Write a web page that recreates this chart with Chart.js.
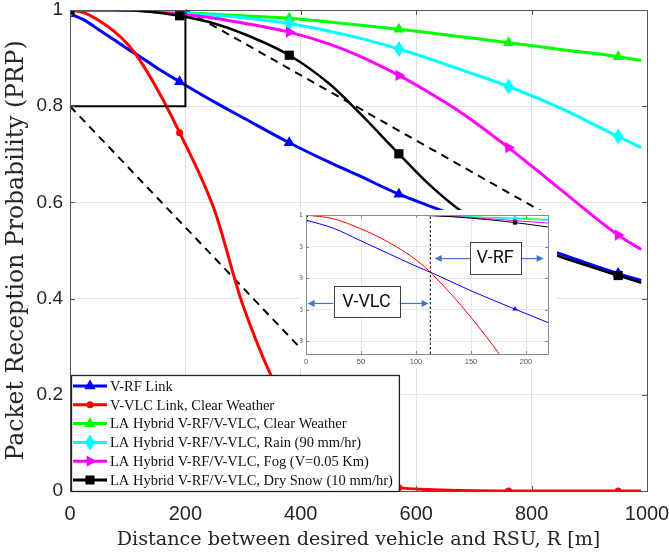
<!DOCTYPE html>
<html>
<head>
<meta charset="utf-8">
<script src="https://cdn.jsdelivr.net/npm/chart.js@4.4.1/dist/chart.umd.min.js"></script>
<style>
  body { margin: 0; background: #fff; }
  #wrap { position: relative; width: 669px; height: 557px; }
  #main { position: absolute; left: 0; top: 0; }
  #inset { position: absolute; left: 300px; top: 210px; background: #fff; }
</style>
</head>
<body>
<div id="wrap">
  <canvas id="main" width="669" height="557"></canvas>
  <canvas id="inset" width="257" height="158"></canvas>
</div>
<script>
// --- DATA ---
const distance = [0, 25, 50, 75, 100, 115, 150, 190, 250, 300, 380, 450, 500, 570, 620, 680, 760, 850, 950, 990];
const rfLink   = [0.992, 0.979, 0.959, 0.939, 0.919, 0.908, 0.880, 0.851, 0.809, 0.776, 0.724, 0.683, 0.656, 0.617, 0.594, 0.567, 0.531, 0.493, 0.452, 0.438];
const vlcClear = [1, 0.994, 0.978, 0.957, 0.929, 0.906, 0.838, 0.745, 0.585, 0.385, 0.165, 0.060, 0.028, 0.007, 0.003, 0.001, 0, 0, 0, 0];
const hybClear = [1, 1, 1, 1, 0.9995, 0.999, 0.997, 0.995, 0.991, 0.988, 0.983, 0.975, 0.969, 0.960, 0.953, 0.944, 0.932, 0.918, 0.903, 0.895];
const hybRain  = [1, 1, 1, 1, 0.9995, 0.999, 0.997, 0.994, 0.989, 0.984, 0.972, 0.956, 0.942, 0.919, 0.900, 0.875, 0.841, 0.796, 0.737, 0.714];
const hybFog   = [1, 1, 1, 1, 0.9995, 0.999, 0.996, 0.991, 0.983, 0.973, 0.954, 0.929, 0.905, 0.864, 0.830, 0.785, 0.714, 0.627, 0.532, 0.502];
const hybSnow  = [1, 1, 1, 1, 0.9995, 0.999, 0.995, 0.988, 0.972, 0.951, 0.906, 0.846, 0.788, 0.701, 0.640, 0.580, 0.525, 0.487, 0.448, 0.433];
const markerAt = [0, 190, 380, 570, 760, 950];

const xTicks = [0, 200, 400, 600, 800, 1000];
const yTicks = [0, 0.2, 0.4, 0.6, 0.8, 1];
const insetXTicks = [0, 50, 100, 150, 200];
const insetYTicks = [0.8, 0.85, 0.9, 0.95, 1];

const zoomBoxX = [0, 200, 200, 0, 0];
const zoomBoxY = [0.8, 0.8, 1, 1, 0.8];
const switchDistance = 113;

const labels = [
    'V-RF Link',
    'V-VLC Link, Clear Weather',
    'LA Hybrid V-RF/V-VLC, Clear Weather',
    'LA Hybrid V-RF/V-VLC, Rain (90 mm/hr)',
    'LA Hybrid V-RF/V-VLC, Fog (V=0.05 Km)',
    'LA Hybrid V-RF/V-VLC, Dry Snow (10 mm/hr)'
];
const values = [rfLink, vlcClear, hybClear, hybRain, hybFog, hybSnow];
const colors = ['#0000ff', '#ff0000', '#00ff00', '#00ffff', '#ff00ff', '#000000'];
const shapes = ['triangle', 'circle', 'triangle', 'diamond', 'right', 'rect'];

Chart.defaults.font.family = "'Liberation Sans', Arial, sans-serif";
Chart.defaults.color = '#262626';
const titleFamily = "'DejaVu Serif', serif";

// --- MARKERS ---
function diamondImage(w, h, color) {
    const c = document.createElement('canvas');
    c.width = w; c.height = h;
    const g = c.getContext('2d');
    g.fillStyle = color;
    g.beginPath();
    g.moveTo(w / 2, 0); g.lineTo(w, h / 2); g.lineTo(w / 2, h); g.lineTo(0, h / 2);
    g.closePath(); g.fill();
    return c;
}

function pointStyleFor(shape, big) {
    if (shape === 'diamond') return big ? diamondImage(10, 16, '#00ffff') : diamondImage(5, 8, '#00ffff');
    if (shape === 'right') return 'triangle';
    return shape;
}

function markerSize(shape, big) {
    const s = { triangle: 6.5, circle: 3.5, diamond: 6, right: 6.5, rect: 6.5 }[shape];
    return big ? s : s * 0.45;
}

function drawMarker(ctx, shape, x, y, color) {
    ctx.fillStyle = color;
    ctx.beginPath();
    if (shape === 'triangle') {
        ctx.moveTo(x, y - 6.5); ctx.lineTo(x + 5.6, y + 3.3); ctx.lineTo(x - 5.6, y + 3.3);
    } else if (shape === 'right') {
        ctx.moveTo(x + 6.5, y); ctx.lineTo(x - 3.3, y + 5.6); ctx.lineTo(x - 3.3, y - 5.6);
    } else if (shape === 'circle') {
        ctx.arc(x, y, 3.5, 0, Math.PI * 2);
    } else if (shape === 'diamond') {
        ctx.moveTo(x, y - 8); ctx.lineTo(x + 5, y); ctx.lineTo(x, y + 8); ctx.lineTo(x - 5, y);
    } else {
        ctx.rect(x - 4.5, y - 4.5, 9, 9);
    }
    ctx.closePath();
    ctx.fill();
}

function makeDatasets(big) {
    return values.map((vals, i) => ({
        label: labels[i],
        data: distance.map((d, k) => ({ x: d, y: vals[k] })),
        borderColor: colors[i],
        backgroundColor: colors[i],
        borderWidth: big ? (i === 5 ? 2.5 : 3) : 1,
        cubicInterpolationMode: 'monotone',
        pointStyle: pointStyleFor(shapes[i], big),
        pointRotation: shapes[i] === 'right' ? 90 : 0,
        pointRadius: ctx => markerAt.includes(ctx.raw.x) ? markerSize(shapes[i], big) : 0,
        pointBorderWidth: 0,
        order: 5 - i
    }));
}

// --- INSET ---
function insetX(s) { s.paddingLeft = 0; s.paddingRight = 0; s.height = 14; }
function insetY(s) { s.paddingTop = 0; s.paddingBottom = 0; s.width = 6; }

function arrow(ctx, x1, y, x2) {
    const dir = x2 > x1 ? 1 : -1;
    ctx.beginPath();
    ctx.moveTo(x1, y); ctx.lineTo(x2 - dir * 6, y);
    ctx.stroke();
    ctx.beginPath();
    ctx.moveTo(x2, y); ctx.lineTo(x2 - dir * 7, y - 3.5); ctx.lineTo(x2 - dir * 7, y + 3.5);
    ctx.closePath(); ctx.fill();
}

function tag(ctx, text, x0, y0, x1, y1) {
    ctx.fillStyle = '#fff';
    ctx.fillRect(x0, y0, x1 - x0, y1 - y0);
    ctx.strokeStyle = '#404040';
    ctx.lineWidth = 1;
    ctx.strokeRect(Math.round(x0) + 0.5, Math.round(y0) + 0.5, Math.round(x1 - x0), Math.round(y1 - y0));
    ctx.fillStyle = '#111';
    ctx.font = '18px Roboto, sans-serif';
    ctx.textAlign = 'center';
    ctx.textBaseline = 'middle';
    ctx.fillText(text, (x0 + x1) / 2, (y0 + y1) / 2 + 1);
}

const insetDecor = {
    id: 'insetDecor',
    afterDraw(chart) {
        const { ctx, chartArea: a, scales: { x, y } } = chart;
        ctx.save();
        ctx.strokeStyle = '#8c8c8c';
        ctx.lineWidth = 1;
        ctx.strokeRect(a.left + 0.5, a.top + 0.5, a.right - a.left, a.bottom - a.top);
        ctx.beginPath();
        insetXTicks.forEach(v => {
            const px = Math.round(x.getPixelForValue(v)) + 0.5;
            ctx.moveTo(px, a.bottom); ctx.lineTo(px, a.bottom - 3);
            ctx.moveTo(px, a.top); ctx.lineTo(px, a.top + 3);
        });
        insetYTicks.forEach(v => {
            const py = Math.round(y.getPixelForValue(v)) + 0.5;
            ctx.moveTo(a.left, py); ctx.lineTo(a.left + 3, py);
            ctx.moveTo(a.right, py); ctx.lineTo(a.right - 3, py);
        });
        ctx.stroke();

        // V-VLC / V-RF annotations
        ctx.strokeStyle = '#4472c4';
        ctx.fillStyle = '#4472c4';
        ctx.lineWidth = 1.2;
        const rfY = y.getPixelForValue(0.931);
        const vlcY = y.getPixelForValue(0.86);
        arrow(ctx, x.getPixelForValue(149), rfY, x.getPixelForValue(117));
        arrow(ctx, x.getPixelForValue(195), rfY, x.getPixelForValue(216));
        arrow(ctx, x.getPixelForValue(25), vlcY, x.getPixelForValue(1.5));
        arrow(ctx, x.getPixelForValue(85), vlcY, x.getPixelForValue(111.5));
        tag(ctx, 'V-RF', x.getPixelForValue(149), y.getPixelForValue(0.9575), x.getPixelForValue(195), y.getPixelForValue(0.907));
        tag(ctx, 'V-VLC', x.getPixelForValue(25), y.getPixelForValue(0.887), x.getPixelForValue(85), y.getPixelForValue(0.838));
        ctx.restore();
    }
};

const insetSets = makeDatasets(false);
insetSets.push({
    data: [{ x: switchDistance, y: 0.78 }, { x: switchDistance, y: 1 }],
    borderColor: '#000', borderWidth: 1, borderDash: [2.5, 2],
    pointRadius: 0, order: -1
});

const insetChart = new Chart(document.getElementById('inset'), {
    type: 'line',
    data: { datasets: insetSets },
    options: {
        responsive: false,
        animation: false,
        events: [],
        layout: { padding: { top: 5, right: 9, left: 0, bottom: 0 } },
        plugins: { legend: { display: false }, tooltip: { enabled: false } },
        scales: {
            x: {
                type: 'linear', min: 0, max: 220,
                afterBuildTicks: s => { s.ticks = insetXTicks.map(v => ({ value: v })); },
                afterFit: insetX,
                grid: { color: '#e6e6e6', drawTicks: false },
                border: { display: false },
                ticks: { font: { size: 7.5 }, color: '#555', padding: 3, maxRotation: 0, callback: v => String(v) }
            },
            y: {
                type: 'linear', min: 0.78, max: 1,
                afterBuildTicks: s => { s.ticks = insetYTicks.map(v => ({ value: v })); },
                afterFit: insetY,
                grid: { color: '#e6e6e6', drawTicks: false },
                border: { display: false },
                ticks: { font: { size: 7.5 }, color: '#555', padding: 3, callback: v => String(v) }
            }
        }
    },
    plugins: [insetDecor]
});

// --- MAIN ---
const mainDecor = {
    id: 'mainDecor',
    beforeDatasetsDraw(chart) {
        // dashed connectors from the zoom box to the inset
        const { ctx, scales: { x, y } } = chart;
        const ic = insetChart.chartArea;
        const el = insetChart.canvas;
        ctx.save();
        ctx.strokeStyle = '#000';
        ctx.lineWidth = 2;
        ctx.setLineDash([8, 6]);
        ctx.beginPath();
        ctx.moveTo(x.getPixelForValue(0), y.getPixelForValue(0.8));
        ctx.lineTo(el.offsetLeft + ic.left, el.offsetTop + ic.bottom);
        ctx.moveTo(x.getPixelForValue(200), y.getPixelForValue(1));
        ctx.lineTo(el.offsetLeft + ic.right, el.offsetTop + ic.top);
        ctx.stroke();
        ctx.restore();
    },
    afterDraw(chart) {
        const { ctx, chartArea: a, scales: { x, y } } = chart;
        ctx.save();
        ctx.strokeStyle = '#555';
        ctx.lineWidth = 1;
        ctx.strokeRect(a.left + 0.5, a.top + 0.5, a.right - a.left, a.bottom - a.top);
        ctx.beginPath();
        xTicks.forEach(v => {
            const px = Math.round(x.getPixelForValue(v)) + 0.5;
            ctx.moveTo(px, a.bottom); ctx.lineTo(px, a.bottom - 5);
            ctx.moveTo(px, a.top); ctx.lineTo(px, a.top + 5);
        });
        yTicks.forEach(v => {
            const py = Math.round(y.getPixelForValue(v)) + 0.5;
            ctx.moveTo(a.left, py); ctx.lineTo(a.left + 5, py);
            ctx.moveTo(a.right, py); ctx.lineTo(a.right - 5, py);
        });
        ctx.stroke();

        // legend box
        ctx.font = "14.5px 'Liberation Serif', 'Times New Roman', serif";
        const textX = a.left + 40;
        const widest = Math.max(...labels.map(t => ctx.measureText(t).width));
        const left = a.left + 1, top = 375, right = Math.max(398, textX + widest + 6), bottom = a.bottom;
        ctx.fillStyle = '#fff';
        ctx.fillRect(left, top, right - left, bottom - top);
        ctx.strokeStyle = '#222';
        ctx.lineWidth = 1.3;
        ctx.strokeRect(left + 0.5, top + 0.5, right - left, bottom - top);
        labels.forEach((t, i) => {
            const cy = 386 + i * 18.8;
            ctx.strokeStyle = colors[i];
            ctx.lineWidth = 3;
            ctx.beginPath();
            ctx.moveTo(a.left + 3, cy); ctx.lineTo(a.left + 37, cy);
            ctx.stroke();
            drawMarker(ctx, shapes[i], a.left + 20, cy, colors[i]);
            ctx.fillStyle = '#111';
            ctx.textAlign = 'left';
            ctx.textBaseline = 'middle';
            ctx.fillText(t, textX, cy + 1);
        });
        ctx.restore();
    }
};

const mainSets = makeDatasets(true);
mainSets.push({
    data: zoomBoxX.map((v, k) => ({ x: v, y: zoomBoxY[k] })),
    borderColor: '#000', borderWidth: 2, pointRadius: 0, order: -1
});

new Chart(document.getElementById('main'), {
    type: 'line',
    data: { datasets: mainSets },
    options: {
        responsive: false,
        animation: false,
        events: [],
        layout: { padding: { top: 10, right: 22, left: 0, bottom: 0 } },
        plugins: { legend: { display: false }, tooltip: { enabled: false } },
        scales: {
            x: {
                type: 'linear', min: 0, max: 1000,
                afterBuildTicks: s => { s.ticks = xTicks.map(v => ({ value: v })); },
                afterFit: s => { s.paddingLeft = 0; s.paddingRight = 0; s.height = 66; },
                grid: { color: '#e3e3e3', drawTicks: false },
                border: { display: false },
                ticks: { font: { size: 20 }, padding: 11, maxRotation: 0, callback: v => String(v) },
                title: {
                    display: true,
                    text: 'Distance between desired vehicle and RSU, R [m]',
                    font: { family: titleFamily, size: 19.2 },
                    padding: { top: 0, bottom: 5 }
                }
            },
            y: {
                type: 'linear', min: 0, max: 1,
                afterBuildTicks: s => { s.ticks = yTicks.map(v => ({ value: v })); },
                afterFit: s => { s.paddingTop = 0; s.paddingBottom = 0; s.width = 70; },
                grid: { color: '#e3e3e3', drawTicks: false },
                border: { display: false },
                ticks: { font: { size: 19 }, padding: 7, callback: v => String(v) },
                title: {
                    display: true,
                    text: 'Packet Reception Probability (PRP)',
                    font: { family: titleFamily, size: 23.5 },
                    padding: { top: 3, bottom: 0 }
                }
            }
        }
    },
    plugins: [mainDecor]
});
</script>
</body>
</html>
